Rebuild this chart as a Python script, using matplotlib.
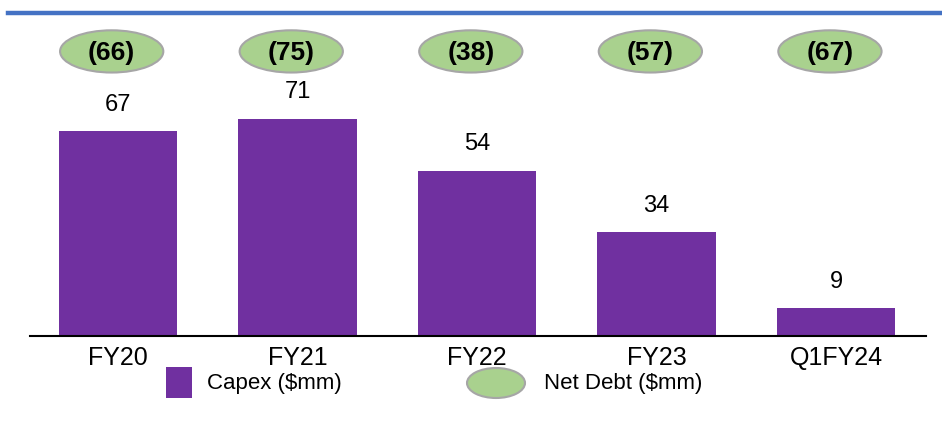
import matplotlib
matplotlib.use('Agg')
import matplotlib.pyplot as plt
from matplotlib.patches import Ellipse, Rectangle
from matplotlib.lines import Line2D

categories = ['FY20', 'FY21', 'FY22', 'FY23', 'Q1FY24']
capex = [67, 71, 54, 34, 9]
net_debt = ['(66)', '(75)', '(38)', '(57)', '(67)']

W, H = 942, 426
purple = '#7030A0'
green = '#A9D18E'
edge = '#A6A6A6'
plt.rcParams['font.family'] = ['Liberation Sans', 'DejaVu Sans']

fig = plt.figure(figsize=(W/100, H/100), dpi=100)
# axes: x 30..926 px, baseline at y=336, top at y=20
ax = fig.add_axes([30/W, 1-336/H, 896/W, 316/H])
ax.set_xlim(-0.49, 4.5)
ax.set_ylim(0, 316/3.06)
xs = range(len(categories))
bars = ax.bar(xs, capex, width=0.66, color=purple)
for x, v in zip(xs, capex):
    ax.annotate(str(v), (x, v), xytext=(0, 11), textcoords='offset points',
                ha='center', va='bottom', fontsize=17, color='black')
for x, t in zip(xs, net_debt):
    cx = x - 0.035
    ax.add_patch(Ellipse((cx, 93.0), 0.575, 13.8, facecolor=green, edgecolor=edge, lw=1.5, clip_on=False))
    ax.text(cx, 92.6, t, ha='center', va='center', fontsize=19, fontweight='bold',
            family=['Liberation Sans Narrow', 'Liberation Sans'])
ax.set_xticks(list(xs))
ax.set_xticklabels(categories, fontsize=18)
ax.tick_params(axis='x', length=0, pad=7)
ax.set_yticks([])
for s in ['left', 'right', 'top']:
    ax.spines[s].set_visible(False)
ax.spines['bottom'].set_linewidth(1.5)

# top rule
fig.add_artist(Line2D([8/W, 940/W], [1-13/H, 1-13/H], color='#4472C4', lw=3.2))

# legend
fig.add_artist(Rectangle((166/W, 1-398/H), 26/W, 31/H, facecolor=purple, edgecolor='none'))
fig.text(207/W, 1-384/H, 'Capex ($mm)', fontsize=16, va='center', ha='left')
fig.add_artist(Ellipse((496/W, 1-383/H), 58/W, 30/H, facecolor=green, edgecolor=edge, lw=1.5))
fig.text(544/W, 1-384/H, 'Net Debt ($mm)', fontsize=16, va='center', ha='left')

fig.savefig('out.png', dpi=100)
